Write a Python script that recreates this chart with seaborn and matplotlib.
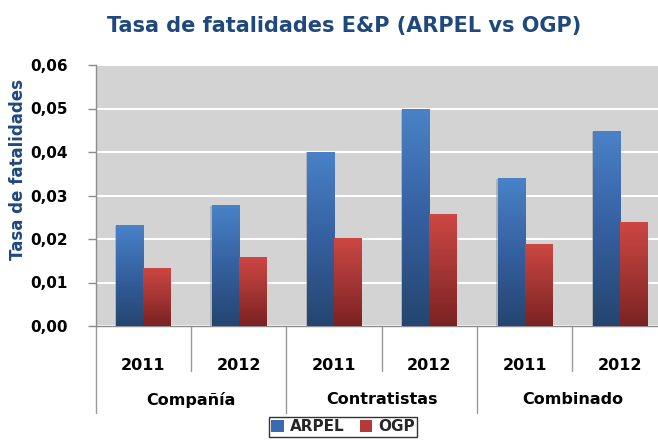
import numpy as np
import pandas as pd
import matplotlib
matplotlib.use("Agg")
import matplotlib.pyplot as plt
import seaborn as sns
from matplotlib.patches import Patch
from matplotlib.colors import LinearSegmentedColormap
from matplotlib.lines import Line2D
from matplotlib.transforms import blended_transform_factory

# ---- data ----
groups = ["Compañía", "Contratistas", "Combinado"]
years = ["2011", "2012"]
series = ["ARPEL", "OGP"]
arpel = [0.0232, 0.0278, 0.0401, 0.0500, 0.0340, 0.0449]
ogp = [0.0134, 0.0159, 0.0203, 0.0257, 0.0189, 0.0238]
yticks = [0.00, 0.01, 0.02, 0.03, 0.04, 0.05, 0.06]
ytick_labels = ["0,00", "0,01", "0,02", "0,03", "0,04", "0,05", "0,06"]
title = "Tasa de fatalidades E&P (ARPEL vs OGP)"
ylabel = "Tasa de fatalidades"

cats = [f"{g} {y}" for g in groups for y in years]
year_labels = [y for g in groups for y in years]
df = pd.DataFrame({
    "cat": cats * 2,
    "serie": [series[0]] * len(cats) + [series[1]] * len(cats),
    "valor": arpel + ogp,
})

colors = {"ARPEL": "#3A6BB0", "OGP": "#B53A37"}
grad = {
    "ARPEL": LinearSegmentedColormap.from_list("b", ["#24456F", "#3560A0", "#4A82C8"]),
    "OGP": LinearSegmentedColormap.from_list("r", ["#7A2222", "#A43634", "#CD4743"]),
}
title_color = "#1F497D"

sns.set_theme(style="white")
plt.rcParams["font.family"] = ["DejaVu Sans"]

fig = plt.figure(figsize=(6.58, 4.41), dpi=100)
L = 95.8 / 658
B = 1 - 326 / 441
W = 572 / 658
H = (326 - 65) / 441
ax = fig.add_axes([L, B, W, H])
ax.set_facecolor("#D3D3D3")

sns.barplot(data=df, x="cat", y="valor", hue="serie", order=cats, hue_order=series,
            palette=colors, width=0.57, ax=ax, legend=False, saturation=1,
            edgecolor="none", zorder=3)

ax.set_ylim(0, 0.06)
ax.set_xlim(-0.5, len(cats) - 0.5)

# gradients on bars
bars = [p for p in ax.patches]
n = len(cats)
g = np.linspace(0, 1, 256).reshape(-1, 1)
for i, p in enumerate(bars):
    s = series[0] if i < n else series[1]
    x0, w = p.get_x(), p.get_width()
    h = p.get_height()
    if h <= 0:
        continue
    # subtle shadow on the left side
    sh = plt.Rectangle((x0 - 0.015, 0), w, h * 0.995, facecolor="#8a8a8a", alpha=0.45,
                       edgecolor="none", zorder=2.5)
    ax.add_patch(sh)
    im = ax.imshow(g, cmap=grad[s], origin="lower", aspect="auto",
                   extent=[x0, x0 + w, 0, h], zorder=3.5, interpolation="bilinear")
    im.set_clip_path(p)
ax.set_ylim(0, 0.06)
ax.set_xlim(-0.5, len(cats) - 0.5)

ax.yaxis.grid(True, color="white", lw=1.5, zorder=1)
ax.set_axisbelow(True)
ax.set_yticks(yticks)
ax.set_yticklabels(ytick_labels, fontsize=11, fontweight="bold", color="black")
ax.tick_params(axis="y", direction="out", length=6, width=1, color="#8C8C8C", pad=14, left=True)
ax.set_xticks(range(n))
ax.set_xticklabels(year_labels, fontsize=11.5, fontweight="bold", color="black")
ax.tick_params(axis="x", length=0, pad=23)
ax.set_xlabel("")
ax.set_ylabel("")
for s in ["top", "right"]:
    ax.spines[s].set_visible(False)
for s in ["left", "bottom"]:
    ax.spines[s].set_color("#8C8C8C")
    ax.spines[s].set_linewidth(1)

trans = blended_transform_factory(ax.transData, ax.transAxes)
axh = 326 - 65
for k in range(len(groups)):
    xm = k * 2 + 0.5
    ax.add_line(Line2D([xm, xm], [0, -(371 - 326) / axh], transform=trans,
                       color="#9A9A9A", lw=1, clip_on=False))
    ax.text(xm, -(400 - 326) / axh, groups[k], transform=trans, ha="center", va="center",
            fontsize=11.5, fontweight="bold", color="black")
for k in range(len(groups) + 1):
    xb = k * 2 - 0.5
    ax.add_line(Line2D([xb, xb], [0, -(413 - 326) / axh], transform=trans,
                       color="#9A9A9A", lw=1, clip_on=False))

fig.text(344 / 658, 1 - 26 / 441, title, ha="center", va="center", fontsize=15,
         fontweight="bold", color=title_color)
fig.text(18 / 658, 1 - 170 / 441, ylabel, rotation=90, ha="center", va="center",
         fontsize=12, fontweight="bold", color=title_color)

handles = [Patch(facecolor=colors[s], edgecolor="none", label=s) for s in series]
leg = fig.legend(handles=handles, loc="upper center", bbox_to_anchor=(343 / 658, 1 - 417 / 441),
                 ncol=2, frameon=True, fancybox=False, edgecolor="black",
                 prop={"weight": "bold", "size": 11}, handlelength=0.8, handleheight=0.8,
                 columnspacing=1.0, handletextpad=0.4, borderpad=0.15, borderaxespad=0)
leg.get_frame().set_linewidth(1.0)

fig.savefig("out.png", dpi=100)
